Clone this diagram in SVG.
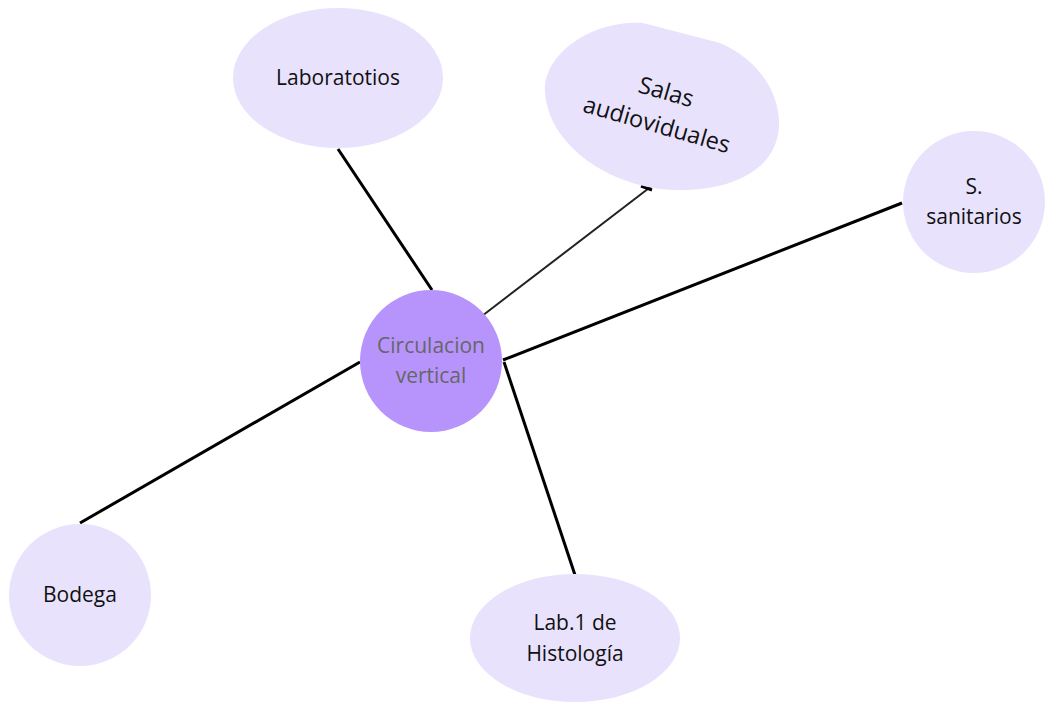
<svg xmlns="http://www.w3.org/2000/svg" width="1047" height="703" viewBox="0 0 1047 703">
  <style>
    .node { fill: #e9e2fd; }
    .hub { fill: #b794fc; }
    .lbl { font-family: "Open Sans", "Noto Sans", sans-serif; font-size: 21px; fill: #111111; text-anchor: middle; }
    .hub-lbl { font-family: "Open Sans", "Noto Sans", sans-serif; font-size: 21px; fill: #666666; text-anchor: middle; }
    .edge { stroke: #000; stroke-width: 3; fill: none; }
    .edge-thin { stroke: #222; stroke-width: 2; fill: none; }
  </style>
  <rect width="1047" height="703" fill="#ffffff"/>

  <g id="connectors">
    <line class="edge" x1="338" y1="149" x2="432" y2="290"/>
    <line class="edge-thin" x1="482" y1="316" x2="653" y2="185"/>
    <line class="edge" x1="641" y1="186" x2="652" y2="190"/>
    <line class="edge" x1="503" y1="360" x2="902" y2="203"/>
    <line class="edge" x1="360" y1="362" x2="80" y2="523"/>
    <line class="edge" x1="504" y1="362" x2="575" y2="575"/>
  </g>

  <g id="laboratotios">
    <ellipse class="node" cx="338" cy="78" rx="105" ry="70"/>
    <text class="lbl" x="338" y="85">Laboratotios</text>
  </g>

  <g id="salas-audioviduales">
    <path class="node" d="M643,23 L720,43 C760,60 780,95 779,125 C778,170 730,192 675,190 C610,188 548,145 545,92 C543,55 590,20 643,23 Z"/>
    <g transform="translate(660 110) rotate(16)">
      <text class="lbl" style="font-size:23.5px" x="1" y="-11">Salas</text>
      <text class="lbl" style="font-size:23.5px" x="1" y="23">audioviduales</text>
    </g>
  </g>

  <g id="s-sanitarios">
    <circle class="node" cx="974" cy="202" r="71"/>
    <text class="lbl" x="974" y="194">S.</text>
    <text class="lbl" x="974" y="224">sanitarios</text>
  </g>

  <g id="circulacion-vertical">
    <circle class="hub" cx="431" cy="361" r="71"/>
    <text class="hub-lbl" x="431" y="353">Circulacion</text>
    <text class="hub-lbl" x="431" y="383">vertical</text>
  </g>

  <g id="bodega">
    <circle class="node" cx="80" cy="595" r="71"/>
    <text class="lbl" x="80" y="602">Bodega</text>
  </g>

  <g id="lab1-histologia">
    <ellipse class="node" cx="575" cy="638" rx="105" ry="64"/>
    <text class="lbl" x="575" y="630">Lab.1 de</text>
    <text class="lbl" x="575" y="661">Histología</text>
  </g>
</svg>
